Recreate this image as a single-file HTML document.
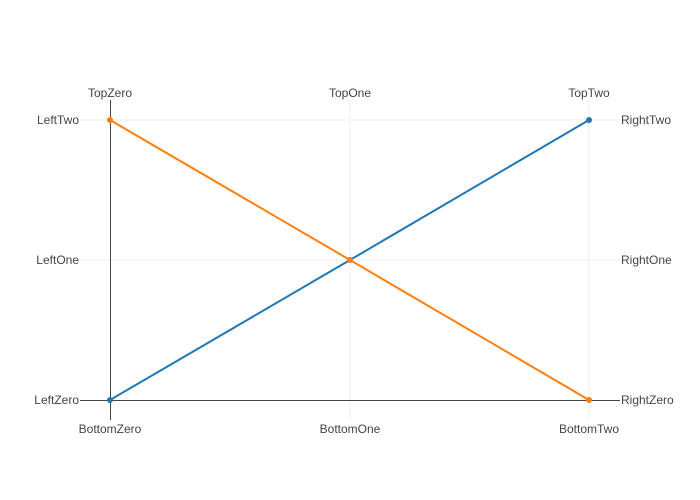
<!DOCTYPE html>
<html><head><style>body{margin:0;background:#fff}</style></head><body>
<svg width="700" height="500" xmlns="http://www.w3.org/2000/svg" style="display:block;font-family:'Liberation Sans',sans-serif;font-size:12px;fill:#444">
<g stroke="#eee" stroke-width="1">
<line x1="80" y1="120" x2="620" y2="120"/>
<line x1="80" y1="260" x2="620" y2="260"/>
<line x1="350" y1="100" x2="350" y2="420"/>
<line x1="589" y1="100" x2="589" y2="420"/>
</g>
<g stroke="#444" stroke-width="1">
<line x1="110.5" y1="100" x2="110.5" y2="420"/>
<line x1="80" y1="400.5" x2="620" y2="400.5"/>
</g>
<polyline points="110,400 350,260 589,120" fill="none" stroke="#1f77b4" stroke-width="2"/>
<polyline points="110,120 350,260 589,400" fill="none" stroke="#ff7f0e" stroke-width="2"/>
<g fill="#1f77b4"><circle cx="110" cy="400" r="3"/><circle cx="350" cy="260" r="3"/><circle cx="589" cy="120" r="3"/></g>
<g fill="#ff7f0e"><circle cx="110" cy="120" r="3"/><circle cx="350" cy="260" r="3"/><circle cx="589" cy="400" r="3"/></g>
<g text-anchor="middle">
<text x="110" y="97">TopZero</text><text x="350" y="97">TopOne</text><text x="589" y="97">TopTwo</text>
<text x="110" y="433">BottomZero</text><text x="350" y="433">BottomOne</text><text x="589" y="433">BottomTwo</text>
</g>
<g text-anchor="end">
<text x="79" y="124">LeftTwo</text><text x="79" y="264">LeftOne</text><text x="79" y="404">LeftZero</text>
</g>
<g text-anchor="start">
<text x="621" y="124">RightTwo</text><text x="621" y="264">RightOne</text><text x="621" y="404">RightZero</text>
</g>
</svg>
</body></html>
